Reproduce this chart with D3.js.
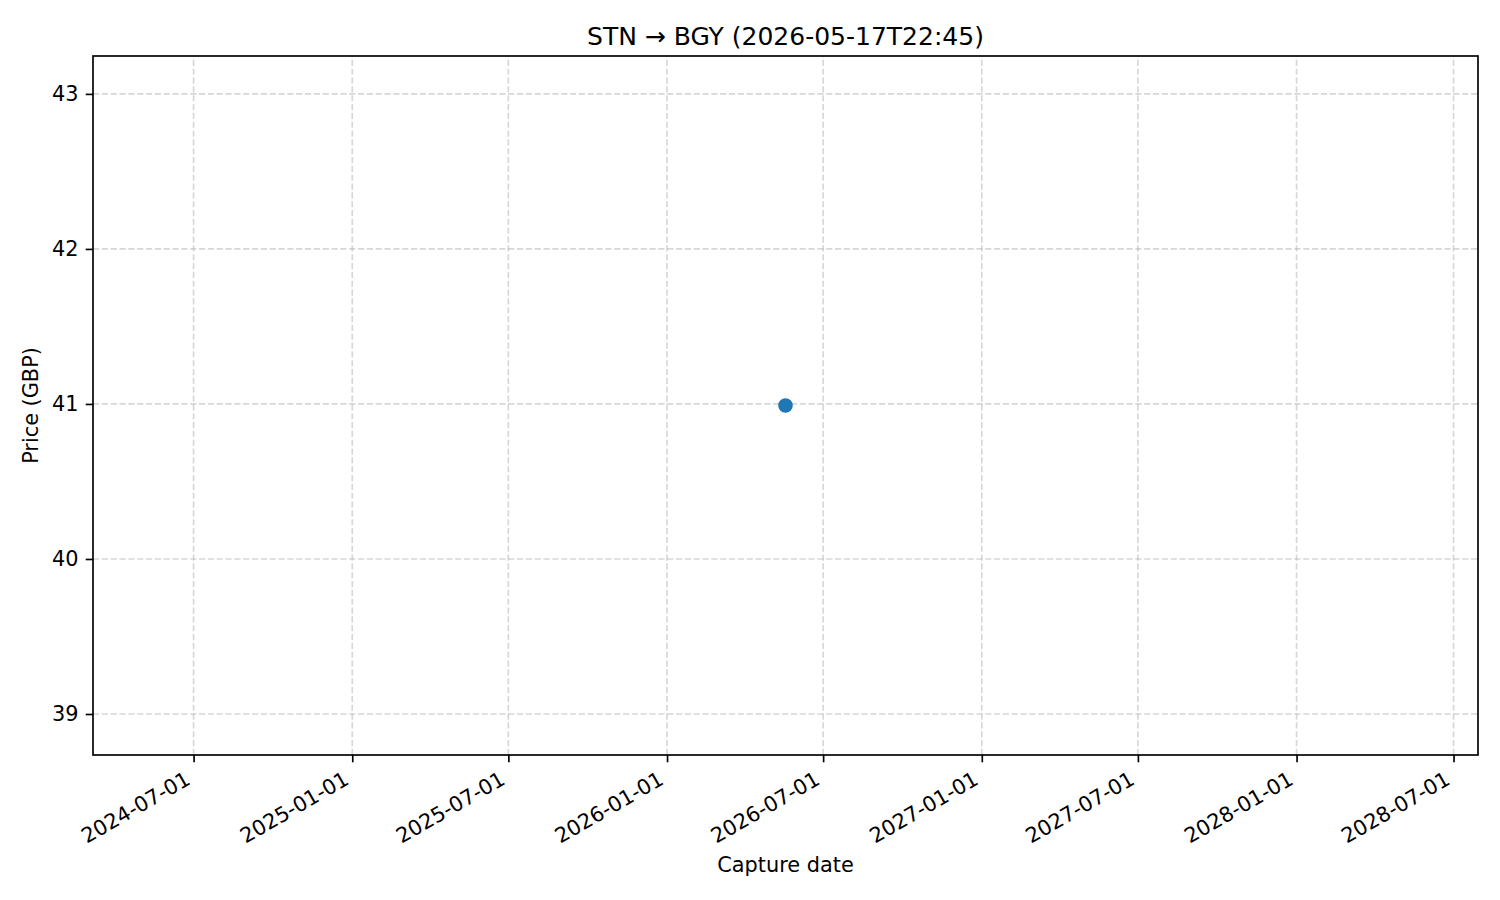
<!DOCTYPE html>
<html>
<head>
<meta charset="utf-8">
<script src="https://cdn.jsdelivr.net/npm/d3@7"></script>
<style>
  body { margin: 0; background: #fff; }
  text { font-family: "DejaVu Sans", sans-serif; fill: #000; }
</style>
</head>
<body>
<svg id="chart" width="1500" height="900"></svg>
<script>
// data
const captureDates = ['2026-05-18T09:00:00Z'];
const prices = [40.99];
const yTicks = [39, 40, 41, 42, 43];
const xTickLabels = ['2024-07-01', '2025-01-01', '2025-07-01', '2026-01-01', '2026-07-01',
                     '2027-01-01', '2027-07-01', '2028-01-01', '2028-07-01'];
const title = 'STN \u2192 BGY (2026-05-17T22:45)';

const W = 1500, H = 900;
const margin = { top: 56, right: 22, bottom: 145, left: 93 };
const pt = 150 / 72;             // figure rendered at 150 dpi
const tickLen = 3.5 * pt, tickPad = 3.5 * pt;
const fontTick = 10 * pt, fontTitle = 12 * pt;

const points = captureDates.map((d, i) => ({ date: new Date(d), price: prices[i] }));

// matplotlib style limits: a single value gets widened, then 5% margin
function padExtent(lo, hi, widen) {
  if (lo === hi) { lo -= widen(lo); hi += widen(hi); }
  const m = (hi - lo) * 0.05;
  return [lo - m, hi + m];
}

const DAY = 86400000;
const xExt = padExtent(
  d3.min(points, d => +d.date), d3.max(points, d => +d.date), () => 730 * DAY);
const yExt = padExtent(
  d3.min(points, d => d.price), d3.max(points, d => d.price), v => Math.abs(v) * 0.05);

const x = d3.scaleUtc()
  .domain(xExt.map(v => new Date(v)))
  .range([margin.left, W - margin.right]);
const y = d3.scaleLinear()
  .domain(yExt)
  .range([H - margin.bottom, margin.top]);

const svg = d3.select('#chart');
const plotTop = margin.top, plotBottom = H - margin.bottom;
const plotLeft = margin.left, plotRight = W - margin.right;

const xTicks = xTickLabels.map(s => new Date(s + 'T00:00:00Z'));

// grid
const grid = svg.append('g')
  .attr('stroke', '#b0b0b0')
  .attr('stroke-opacity', 0.5)
  .attr('stroke-width', 0.8 * pt)
  .attr('stroke-dasharray', `${3.7 * 0.8 * pt},${1.6 * 0.8 * pt}`);

grid.selectAll('.vgrid').data(xTicks).enter().append('line')
  .attr('x1', d => x(d)).attr('x2', d => x(d))
  .attr('y1', plotBottom).attr('y2', plotTop);

grid.selectAll('.hgrid').data(yTicks).enter().append('line')
  .attr('x1', plotLeft).attr('x2', plotRight)
  .attr('y1', d => y(d)).attr('y2', d => y(d));

// x axis
const xAxis = svg.append('g')
  .attr('transform', `translate(0,${plotBottom})`)
  .call(d3.axisBottom(x).tickValues(xTicks).tickSize(tickLen).tickFormat(d3.utcFormat('%Y-%m-%d')));
xAxis.select('.domain').remove();
xAxis.selectAll('.tick line').attr('stroke', '#000').attr('stroke-width', 0.8 * pt);
xAxis.selectAll('.tick text')
  .attr('font-size', fontTick)
  .attr('font-family', '"DejaVu Sans", sans-serif')
  .attr('fill', '#000')
  .attr('text-anchor', 'end')
  .attr('dy', null)
  .attr('y', null)
  .attr('transform', `translate(${-0.5 * 0.236 * fontTick},${tickLen + tickPad + 0.866 * 0.76 * fontTick}) rotate(-30)`);

// y axis
const yAxis = svg.append('g')
  .attr('transform', `translate(${plotLeft},0)`)
  .call(d3.axisLeft(y).tickValues(yTicks).tickSize(tickLen).tickPadding(tickPad).tickFormat(d3.format('d')));
yAxis.select('.domain').remove();
yAxis.selectAll('.tick line').attr('stroke', '#000').attr('stroke-width', 0.8 * pt);
yAxis.selectAll('.tick text')
  .attr('font-size', fontTick)
  .attr('font-family', '"DejaVu Sans", sans-serif')
  .attr('fill', '#000');

// points
svg.append('g').selectAll('circle').data(points).enter().append('circle')
  .attr('cx', d => x(d.date))
  .attr('cy', d => y(d.price))
  .attr('r', 3 * pt)
  .attr('fill', '#1f77b4')
  .attr('stroke', '#1f77b4')
  .attr('stroke-width', 1 * pt);

// spines
svg.append('rect')
  .attr('x', plotLeft).attr('y', plotTop)
  .attr('width', plotRight - plotLeft).attr('height', plotBottom - plotTop)
  .attr('fill', 'none')
  .attr('stroke', '#000')
  .attr('stroke-width', 0.8 * pt);

// labels
svg.append('text')
  .attr('x', (plotLeft + plotRight) / 2).attr('y', 45)
  .attr('text-anchor', 'middle')
  .attr('font-size', fontTitle)
  .text(title);

svg.append('text')
  .attr('x', (plotLeft + plotRight) / 2).attr('y', 872)
  .attr('text-anchor', 'middle')
  .attr('font-size', fontTick)
  .text('Capture date');

svg.append('text')
  .attr('transform', `translate(37.5,${(plotTop + plotBottom) / 2}) rotate(-90)`)
  .attr('text-anchor', 'middle')
  .attr('font-size', fontTick)
  .text('Price (GBP)');
</script>
</body>
</html>
